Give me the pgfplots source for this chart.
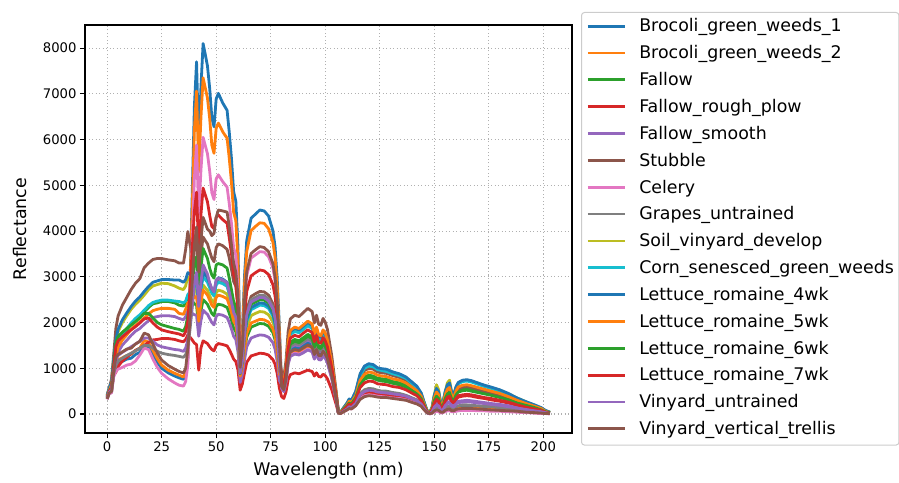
\documentclass[border=0pt]{standalone}
\usepackage{fontspec}
\setmainfont{DejaVu Sans}
\usepackage{pgfplots}
\usepackage{pgfplotstable}
\pgfplotsset{compat=1.18}
\definecolor{c0}{HTML}{1F77B4}
\definecolor{c1}{HTML}{FF7F0E}
\definecolor{c2}{HTML}{2CA02C}
\definecolor{c3}{HTML}{D62728}
\definecolor{c4}{HTML}{9467BD}
\definecolor{c5}{HTML}{8C564B}
\definecolor{c6}{HTML}{E377C2}
\definecolor{c7}{HTML}{7F7F7F}
\definecolor{c8}{HTML}{BCBD22}
\definecolor{c9}{HTML}{17BECF}
\definecolor{legframe}{HTML}{CCCCCC}
\definecolor{gridc}{HTML}{B0B0B0}
\pgfplotstableread{
x s1 s2 s3 s4 s5 s6 s7 s8 s9 s10 s11 s12 s13 s14 s15 s16
0 330 340 380 360 370 420 320 350 400 390 410 380 360 360 350 330
1 460 470 520 490 510 580 450 480 560 540 570 520 500 500 480 460
2 470 480 650 550 610 760 460 510 690 650 700 630 580 570 530 490
3 850 880 1060 860 990 1300 810 880 1170 1070 1190 1030 1070 1040 920 920
4 1050 1120 1350 910 1180 1870 930 1060 1570 1370 1620 1270 1560 1470 1180 1240
5 1100 1180 1550 1040 1350 2140 980 1160 1800 1570 1850 1460 1690 1600 1280 1300
7 1150 1230 1720 1160 1510 2380 1020 1220 2000 1740 2060 1620 1790 1690 1350 1360
9 1200 1280 1840 1240 1610 2550 1070 1280 2150 1870 2210 1730 1870 1770 1410 1420
11 1220 1310 1960 1320 1720 2720 1090 1330 2290 1990 2350 1850 1945 1840 1470 1440
13 1300 1390 2060 1390 1810 2860 1160 1380 2400 2090 2470 1940 2020 1910 1530 1530
15 1350 1440 2140 1440 1870 2960 1290 1440 2490 2170 2560 2010 2100 1990 1590 1590
17 1500 1610 2230 1500 1960 3200 1440 1500 2600 2270 2680 2100 2200 2080 1660 1770
19 1470 1570 2330 1570 2040 3300 1410 1500 2720 2370 2790 2190 2200 2100 1660 1730
21 1300 1390 2410 1620 2110 3380 1200 1440 2800 2440 2880 2260 2100 1990 1590 1530
23 1130 1210 2430 1630 2130 3400 1020 1370 2830 2470 2910 2290 2000 1900 1510 1330
25 1000 1070 2460 1650 2150 3400 890 1330 2860 2490 2940 2310 1950 1840 1470 1180
28 900 960 2460 1650 2150 3370 770 1300 2850 2490 2940 2310 1910 1800 1440 1060
31 830 890 2430 1630 2130 3350 680 1280 2800 2470 2930 2290 1870 1770 1410 980
33 790 850 2380 1600 2090 3300 630 1260 2750 2460 2930 2200 1850 1750 1400 930
35 760 810 2360 1580 2060 3300 610 1240 2720 2430 2880 2180 1810 1710 1370 900
36 850 910 2430 1630 2130 3600 710 1300 2800 2470 2940 2290 1910 1800 1440 1000
37 1200 1280 2580 1730 2260 3990 1070 1460 3000 2610 3090 2430 2140 2020 1620 1420
38 2820 2730 2530 1680 2230 3700 2270 1850 2920 2670 3060 2470 2470 2730 1990 2090
39 4770 4460 2470 1620 2200 3500 3710 2320 2820 2740 3010 2510 2860 3580 2430 2890
40 6720 6190 2410 1550 2170 3600 5150 2800 2730 2810 2970 2550 3250 4430 2880 3690
41 7700 7060 2380 1520 2160 3680 5880 3030 2680 2850 2950 2570 3440 4850 3100 4090
42 5830 5290 1880 960 1700 2900 4360 2300 2120 2250 2330 2030 2610 3560 2350 3100
43 7130 6470 2250 1440 2040 3480 5320 2810 2540 2700 2790 2440 3190 4350 2870 3780
44 8100 7350 2500 1600 2270 3870 6050 3190 2820 3000 3100 2710 3620 4940 3260 4300
45 7860 7130 2450 1570 2220 3790 5870 3090 2760 2940 3040 2660 3510 4790 3160 4170
46 7610 6910 2400 1540 2180 3720 5690 3000 2710 2880 2980 2600 3400 4640 3060 4040
47 7130 6470 2300 1470 2090 3560 5320 2810 2590 2760 2850 2490 3190 4350 2870 4000
48 6480 5880 2200 1410 2000 3410 4840 2680 2480 2640 2730 2380 3040 4100 2740 3900
49 6280 5700 2150 1380 1950 3330 4690 2620 2430 2580 2670 2330 2970 4050 2670 3950
50 6890 6250 2350 1500 2130 3640 5140 2870 2650 2820 2910 2550 3260 4300 2930 4300
51 7010 6360 2400 1540 2180 3720 5230 2900 2710 2880 2980 2600 3290 4350 2970 4460
53 6800 6170 2380 1520 2160 3680 5080 2870 2680 2850 2950 2570 3260 4250 2930 4440
55 6640 6030 2330 1490 2110 3600 4960 2810 2620 2790 2880 2520 3190 4170 2870 4415
56 6160 5590 2200 1410 2000 3410 4600 2620 2480 2640 2730 2380 2970 3850 2670 4100
57 5590 5070 2050 1310 1860 3170 4170 2390 2310 2460 2540 2220 2720 3510 2450 3700
58 4860 4410 1880 1200 1700 2900 3630 2170 2120 2250 2330 2030 2460 3060 2220 3300
59 4660 4230 1800 1150 1630 2790 3480 2070 2030 2160 2230 1950 2350 2910 2120 3100
60 3650 3310 1500 960 1360 2320 2720 1660 1690 1800 1860 1630 1880 2270 1700 2600
61 1250 1170 790 520 690 1070 990 910 900 950 970 830 880 1100 890 1020
62 1780 1670 990 660 870 1340 1420 1170 1120 1190 1220 1040 1130 1420 1150 1460
63 3030 2840 1350 900 1180 1820 2410 1770 1520 1620 1650 1410 1700 2140 1730 2490
64 3790 3550 1680 1130 1470 2280 3020 2210 1900 2020 2070 1760 2130 2680 2170 3110
66 4280 4010 1900 1270 1660 2570 3410 2500 2150 2280 2330 1990 2400 3020 2450 3510
68 4370 4100 1940 1300 1700 2630 3480 2550 2200 2330 2380 2030 2450 3090 2500 3590
70 4460 4180 1980 1330 1730 2680 3550 2600 2240 2380 2430 2070 2500 3150 2550 3660
72 4440 4170 1970 1320 1720 2670 3540 2590 2230 2370 2420 2060 2490 3130 2540 3640
74 4330 4050 1920 1290 1680 2600 3440 2520 2170 2310 2360 2010 2430 3050 2470 3550
76 4010 3760 1780 1190 1560 2410 3200 2340 2020 2140 2190 1860 2250 2830 2300 3290
77 3660 3430 1620 1090 1420 2200 2910 2130 1840 1950 1990 1700 2050 2580 2090 3000
78 2940 2760 1310 880 1140 1770 2340 1720 1480 1570 1600 1370 1650 2080 1680 2420
79 1870 1760 830 560 730 1130 1490 1090 940 1000 1020 870 1050 1320 1070 1540
80 620 590 700 380 650 920 570 660 780 770 800 810 680 740 560 600
81 550 520 610 340 570 810 500 580 680 680 700 710 600 640 490 530
82 780 740 870 480 810 1160 710 830 980 970 1000 1020 850 920 700 760
83 1220 1150 1360 750 1260 1800 1110 1290 1520 1510 1560 1580 1330 1440 1090 1180
84 1400 1330 1570 860 1460 2080 1280 1490 1760 1740 1800 1830 1530 1660 1260 1360
86 1460 1380 1630 900 1510 2160 1330 1540 1820 1800 1870 1900 1590 1720 1310 1410
88 1440 1360 1600 880 1490 2130 1310 1520 1790 1780 1840 1870 1560 1690 1290 1390
90 1500 1420 1670 920 1560 2220 1360 1580 1870 1850 1920 1950 1630 1770 1340 1450
92 1560 1480 1740 960 1620 2310 1420 1650 1950 1930 2000 2030 1700 1840 1400 1510
94 1510 1440 1690 930 1570 2240 1380 1600 1890 1870 1940 1970 1650 1780 1360 1460
95 1340 1270 1500 830 1390 1990 1220 1420 1680 1660 1720 1750 1460 1580 1200 1300
96 1460 1380 1630 900 1510 2160 1330 1540 1820 1800 1870 1900 1590 1720 1310 1410
97 1330 1260 1480 820 1380 1960 1210 1400 1660 1640 1700 1730 1450 1560 1190 1280
98 1310 1240 1460 810 1360 1940 1190 1390 1640 1620 1680 1710 1430 1550 1180 1270
99 1410 1340 1570 870 1470 2090 1290 1490 1760 1750 1810 1840 1540 1670 1270 1370
100 1360 1290 1510 840 1410 2010 1240 1440 1700 1680 1740 1770 1480 1600 1220 1310
101 1250 1180 1390 770 1300 1850 1140 1320 1560 1540 1600 1620 1360 1470 1120 1210
103 860 810 960 530 890 1270 780 910 1070 1060 1100 1120 940 1010 770 830
105 340 330 380 210 360 510 310 360 430 420 440 450 370 400 310 330
106 30 30 50 30 30 60 25 30 65 60 70 55 50 40 30 20
107 10 10 25 10 20 30 10 20 30 30 30 30 20 20 20 10
108 50 40 85 50 50 100 40 60 110 100 110 90 80 70 50 40
110 100 100 190 110 120 220 90 120 240 230 240 200 180 160 110 90
111 140 140 260 140 160 300 130 170 320 320 330 280 240 220 160 120
112 130 120 230 130 150 270 110 150 290 280 300 250 220 190 140 110
114 210 200 380 220 240 450 190 250 490 470 500 410 360 320 230 180
116 380 360 680 380 430 800 340 450 860 840 880 740 640 580 420 320
118 450 430 810 460 510 950 400 530 1030 1000 1050 870 760 680 490 380
120 470 450 850 480 540 1000 420 560 1080 1050 1100 920 800 720 520 400
122 460 440 830 470 530 980 410 550 1060 1030 1080 900 780 710 510 390
124 430 410 780 440 500 920 390 520 990 970 1010 850 740 660 480 370
126 420 410 770 430 490 900 380 500 970 950 990 830 720 650 470 360
128 420 400 760 430 480 890 370 500 960 930 980 820 710 640 460 360
131 400 380 710 400 450 840 350 470 910 880 920 770 670 600 440 340
134 380 360 680 380 430 800 340 450 860 840 880 740 640 580 420 320
137 350 330 630 360 400 740 310 410 800 780 810 680 590 530 390 300
140 300 280 540 300 340 630 260 350 680 660 690 580 500 450 330 250
142 260 250 470 260 300 550 230 310 590 580 610 510 440 400 290 220
144 200 190 360 200 230 420 180 240 450 440 460 390 340 300 220 170
145 130 130 240 130 150 280 120 160 300 290 310 260 220 200 150 110
146 70 70 130 70 80 150 60 80 160 160 170 140 120 110 80 60
147 20 20 30 20 20 40 20 20 40 40 40 40 30 30 20 20
148 10 10 30 20 20 30 0 10 40 40 40 30 30 20 10 10
149 30 30 110 80 60 120 20 40 150 140 150 130 100 90 50 20
150 80 70 310 220 170 330 40 110 410 400 410 350 290 240 150 70
151 110 100 420 300 230 450 60 150 640 540 560 480 390 320 200 90
152 100 85 360 260 200 390 50 130 530 470 490 420 340 280 180 80
153 45 40 170 120 90 180 20 60 220 220 230 190 160 130 80 40
154 50 50 200 140 110 210 30 70 260 250 260 220 180 150 95 40
155 100 85 360 260 200 390 50 130 480 470 490 420 340 280 180 80
156 130 110 480 340 260 510 70 170 680 610 640 540 440 370 230 100
157 140 120 500 360 270 540 70 180 740 650 680 580 470 390 240 110
158 90 80 350 250 190 370 50 120 460 450 470 400 320 270 170 70
159 90 80 320 230 170 350 50 120 430 420 440 370 300 250 160 70
160 120 100 450 320 240 480 60 160 590 580 600 510 420 340 220 100
161 140 120 520 370 280 550 70 180 680 660 690 590 480 400 250 110
163 150 130 550 390 290 590 80 200 730 710 740 630 510 420 260 120
165 150 130 560 400 300 600 80 200 740 720 750 640 520 430 270 120
167 150 130 540 390 290 580 80 190 720 700 730 620 500 420 260 120
170 140 120 500 360 270 540 70 180 670 650 680 580 470 390 240 110
173 130 110 470 340 250 500 70 170 620 600 630 540 440 360 230 100
176 120 100 440 310 230 470 60 160 580 560 590 500 410 340 210 90
180 110 90 390 280 210 420 60 140 520 500 530 450 360 300 190 80
184 90 80 340 240 180 360 50 120 440 430 450 380 310 260 160 70
188 70 60 260 190 140 280 40 90 350 340 350 300 240 200 130 60
192 50 50 200 140 110 220 30 70 270 260 270 230 190 150 100 40
196 40 30 150 100 80 160 20 50 190 190 200 170 140 110 70 30
199 30 20 100 70 50 110 10 40 130 130 140 120 90 80 50 20
201 20 10 60 40 30 60 10 20 70 70 80 60 50 40 30 10
203 10 10 30 20 20 30 0 10 40 40 40 30 30 20 10 10
}\data
\begin{document}
\begin{tikzpicture}
\path[use as bounding box] (0,0) rectangle (899pt,482pt);
\begin{axis}[
  at={(85pt,49pt)}, anchor=south west,
  width=487pt, height=408pt, scale only axis,
  xmin=-10.15, xmax=213.15, ymin=-415, ymax=8505,
  xtick={0,25,...,200}, ytick={0,1000,...,8000},
  xtick pos=left, ytick pos=left, tick align=outside,
  major tick length=5pt,
  tick style={line width=1.1pt, black},
  axis line style={line width=1.1pt, black},
  grid=major,
  major grid style={gridc, line width=1.1pt, dash pattern=on 1.2pt off 2.3pt},
  ticklabel style={font=\fontsize{13.2}{15}\selectfont},
  /pgf/number format/assume math mode=true,
  /pgf/number format/1000 sep={},
  scaled y ticks=false,
  xlabel={Wavelength (nm)}, ylabel={Reflectance},
  label style={font=\fontsize{17.4}{20}\selectfont},
  xlabel style={at={(axis description cs:0.5,-0.093)}, anchor=center},
  ylabel style={at={(axis description cs:-0.1335,0.5)}, anchor=center},
  every axis plot/.append style={line width=2.8pt, line join=round},
  legend style={at={(1.0185,1.0319)}, anchor=north west, draw=legframe,
    line width=1pt, rounded corners=3pt, fill=white, inner xsep=5pt, inner ysep=7pt,
    font=\fontsize{17.4}{20}\selectfont, row sep=10.84pt,
    cells={anchor=base west},
    nodes={inner sep=0pt, text height=12.5pt, text depth=3.5pt},
    /tikz/every odd column/.append style={column sep=13pt}},
  legend image code/.code={\draw[#1, line width=2.8pt, rounded corners=0pt] (0pt,5.8pt) -- (37pt,5.8pt);},
]
\addplot[c0] table[x=x,y=s1]{\data};
\addplot[c1] table[x=x,y=s2]{\data};
\addplot[c2] table[x=x,y=s3]{\data};
\addplot[c3] table[x=x,y=s4]{\data};
\addplot[c4] table[x=x,y=s5]{\data};
\addplot[c5] table[x=x,y=s6]{\data};
\addplot[c6] table[x=x,y=s7]{\data};
\addplot[c7] table[x=x,y=s8]{\data};
\addplot[c8] table[x=x,y=s9]{\data};
\addplot[c9] table[x=x,y=s10]{\data};
\addplot[c0] table[x=x,y=s11]{\data};
\addplot[c1] table[x=x,y=s12]{\data};
\addplot[c2] table[x=x,y=s13]{\data};
\addplot[c3] table[x=x,y=s14]{\data};
\addplot[c4] table[x=x,y=s15]{\data};
\addplot[c5] table[x=x,y=s16]{\data};
\legend{Brocoli\_green\_weeds\_1, Brocoli\_green\_weeds\_2, Fallow, Fallow\_rough\_plow, Fallow\_smooth, Stubble, Celery, Grapes\_untrained, Soil\_vinyard\_develop, Corn\_senesced\_green\_weeds, Lettuce\_romaine\_4wk, Lettuce\_romaine\_5wk, Lettuce\_romaine\_6wk, Lettuce\_romaine\_7wk, Vinyard\_untrained, Vinyard\_vertical\_trellis}
\end{axis}
\end{tikzpicture}
\end{document}
